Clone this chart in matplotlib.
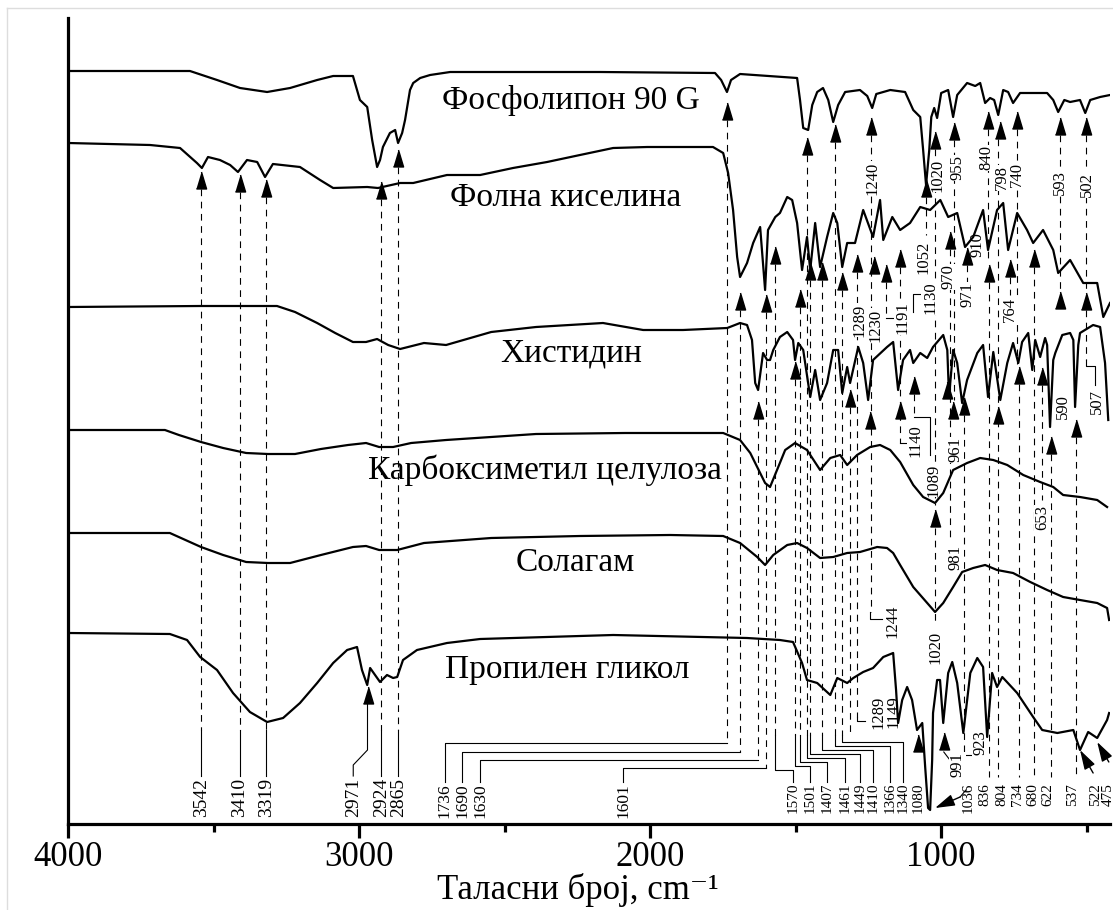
import numpy as np
import matplotlib.pyplot as plt
from matplotlib.lines import Line2D

plt.rcParams['font.family'] = ['Liberation Serif', 'DejaVu Serif']

### spectra : (wavenumber cm-1, vertical position, plotted downward)

phospholipon = [(4000,71),(3581,71),(3488,80),(3409,88),(3316,92),(3237,88),(3144,80),(3089,76),(3021,76),
    (2997,100),(2972,107),(2955,140),(2938,167),(2928,160),(2918,147),(2894,133),(2876,130),(2866,143),
    (2852,133),(2842,120),(2825,90),(2814,83),(2790,78),(2756,75),(2687,72),(2172,72),(1777,73),(1756,80),
    (1736,92),(1722,80),(1691,74),(1495,78),(1485,100),(1474,128),(1457,130),(1443,105),(1426,92),(1406,88),
    (1388,100),(1371,122),(1354,105),(1330,92),(1279,90),(1254,96),(1237,108),(1223,94),(1175,90),(1124,92),
    (1096,110),(1072,117),(1062,150),(1052,185),(1041,150),(1034,117),(1024,108),(1014,118),(1000,93),
    (976,90),(959,117),(945,95),(911,83),(883,86),(866,83),(849,103),(832,98),(818,100),(804,115),(787,90),
    (770,92),(753,103),(729,93),(636,93),(615,100),(598,112),(577,100),(557,102),(523,100),(505,113),
    (488,100),(454,97),(420,95)]

folic = [(4000,143),(3718,145),(3615,148),(3557,163),(3540,168),(3519,157),(3478,160),(3443,165),(3416,172),
    (3385,160),(3350,162),(3323,177),(3296,164),(3203,167),(3134,180),(3089,188),(2972,187),(2935,188),
    (2859,183),(2814,183),(2698,175),(2584,175),(2471,168),(2354,162),(2241,155),(2127,148),(2010,147),
    (1784,147),(1749,153),(1732,173),(1715,210),(1701,257),(1691,277),(1667,263),(1646,243),(1622,227),
    (1605,290),(1595,230),(1570,217),(1554,213),(1529,197),(1512,200),(1495,223),(1478,270),(1461,237),
    (1450,270),(1433,223),(1416,267),(1392,237),(1371,213),(1357,223),(1340,267),(1323,243),(1296,243),
    (1268,210),(1234,237),(1210,200),(1199,240),(1168,217),(1141,230),(1107,223),(1072,207),(1038,210),
    (1003,200),(976,217),(945,213),(918,247),(890,237),(856,210),(839,250),(808,210),(787,203),(770,250),
    (739,213),(705,230),(684,243),(650,230),(615,250),(598,273),(557,260),(512,283),(464,283),(443,317),
    (420,303)]

histidine = [(4000,307),(3546,306),(3282,306),(3220,312),(3144,323),(3082,333),(3021,342),(2976,342),
    (2938,339),(2900,345),(2859,349),(2777,343),(2701,345),(2546,332),(2392,327),(2162,323),(2024,330),
    (1887,330),(1735,328),(1691,323),(1667,325),(1650,340),(1639,383),(1629,390),(1612,353),(1598,360),
    (1588,360),(1577,350),(1554,337),(1529,332),(1509,340),(1502,360),(1491,343),(1474,350),(1450,397),
    (1433,370),(1416,400),(1392,383),(1371,350),(1354,350),(1340,393),(1323,367),(1313,383),(1285,347),
    (1268,363),(1251,400),(1234,360),(1186,347),(1165,342),(1148,390),(1131,360),(1107,350),(1096,363),
    (1072,353),(1048,358),(1028,347),(993,335),(979,350),(973,397),(959,350),(945,363),(928,403),(911,380),
    (876,353),(856,345),(839,397),(821,352),(797,400),(773,363),(753,343),(735,363),(722,342),(701,333),
    (687,370),(677,340),(660,357),(643,338),(636,345),(626,427),(615,360),(608,353),(584,335),(557,333),
    (546,340),(540,407),(529,345),(523,333),(478,325),(454,327),(437,363),(426,420)]

cmc = [(4000,430),(3667,430),(3619,435),(3543,442),(3467,448),(3388,453),(3313,454),(3220,454),(3131,449),
    (3038,445),(2976,443),(2931,447),(2883,447),(2821,443),(2701,440),(2392,434),(2086,433),(1749,433),
    (1691,440),(1656,453),(1622,473),(1605,483),(1588,487),(1564,470),(1536,450),(1502,443),(1461,450),
    (1416,470),(1381,458),(1347,455),(1323,465),(1289,455),(1244,447),(1210,445),(1175,450),(1141,462),
    (1096,485),(1062,497),(1021,503),(993,493),(959,470),(911,463),(866,458),(821,460),(773,465),(718,475),
    (660,482),(615,487),(581,495),(523,497),(464,500),(430,507)]

solagum = [(4000,533),(3650,533),(3543,547),(3467,555),(3388,562),(3313,563),(3237,563),(3131,555),(3021,547),
    (2976,546),(2931,550),(2869,550),(2777,543),(2546,538),(2241,536),(1931,535),(1749,536),(1691,543),
    (1632,557),(1605,565),(1577,555),(1529,545),(1495,543),(1461,548),(1416,558),(1371,557),(1323,553),
    (1279,552),(1220,547),(1186,548),(1165,553),(1141,565),(1096,587),(1048,603),(1021,612),(993,603),
    (959,587),(928,572),(890,568),(849,565),(808,570),(753,573),(694,582),(636,590),(581,597),(523,600),
    (464,603),(430,608),(423,620)]

propylene = [(4000,633),(3650,634),(3591,640),(3546,657),(3488,670),(3433,693),(3375,712),(3316,722),
    (3261,718),(3203,703),(3144,683),(3089,663),(3041,650),(3007,647),(2990,670),(2972,685),(2962,668),
    (2945,675),(2928,682),(2904,675),(2883,678),(2869,677),(2849,660),(2801,650),(2698,643),(2584,639),
    (2127,635),(1667,638),(1554,640),(1509,642),(1478,663),(1461,680),(1426,683),(1381,695),(1357,678),
    (1323,683),(1302,678),(1268,672),(1234,668),(1199,657),(1165,653),(1155,690),(1148,723),(1134,700),
    (1117,687),(1100,700),(1083,730),(1065,723),(1055,767),(1045,808),(1038,810),(1031,760),(1028,713),
    (1014,680),(1004,680),(993,723),(976,673),(962,662),(945,683),(924,733),(900,673),(876,658),(856,667),
    (842,737),(825,673),(808,687),(790,677),(739,693),(684,717),(653,730),(601,733),(546,730),(523,750),
    (495,732),(464,738),(430,720),(423,713)]

spectra = [phospholipon, folic, histidine, cmc, solagum, propylene]
names = ['Фосфолипон 90 G', 'Фолна киселина', 'Хистидин', 'Карбоксиметил целулоза', 'Солагам', 'Пропилен гликол']
name_wn = [2272, 2292, 2272, 2361, 2258, 2285]
name_y = [101, 198, 353, 470, 563, 670]

### marked bands (arrow wavenumber, arrow tip)
arrow_wn = [2865,1736,1461,1366,1240,1052,1020,955,840,798,740,593,502,
            3542,3410,3319,2924,1690,1601,1570,1485,1449,1410,1340,1289,1230,1191,1140,970,910,836,764,680,593,502,
            1630,1501,1313,1244,1140,1093,979,961,923,804,734,653,622,537,
            1020,
            2971,1080,991]
arrow_tip = [150,103,138,125,118,180,132,123,112,122,112,118,118,
             172,175,180,182,293,295,247,290,263,263,273,255,257,265,250,232,248,265,260,250,292,293,
             402,362,390,412,402,377,382,402,398,407,367,368,437,420,
             510,
             687,735,733]

### dashed guide lines (wavenumber, from, to)
dash_wn = [3542,3410,3319,2924,2865,1736,1690,1630,1601,1570,1501,1485,1461,1449,1410,1366,1340,1313,1289,
           1240,1191,1140,1093,1052,1020,1020,970,955,923,910,840,836,804,764,740,734,680,653,622,593,537,502,502]
dash_top = [189,192,197,199,167,120,310,419,312,264,379,307,155,280,280,142,290,407,272,
            135,282,267,394,197,149,528,249,140,415,265,129,282,139,277,129,384,267,385,454,135,437,135,310]
dash_bot = [730,730,730,730,730,743,752,760,768,735,735,735,735,735,735,735,735,735,717,
            612,318,443,417,235,505,625,540,400,750,300,262,777,777,295,364,777,777,500,777,289,777,289,360]

### labels at the bottom : text, text position, line it hangs from, bend level
left_labels = ['3542', '3410', '3319', '2924', '2865']
mid_labels = ['1736', '1690', '1630', '1601']
mid_text_wn = [2705, 2646, 2584, 2093]
mid_bend = [743, 752, 760, 768]
right_labels = ['1570', '1501', '1407', '1461', '1449', '1410', '1366', '1340']
right_line_wn = [1570, 1501, 1485, 1461, 1449, 1410, 1366, 1340]
right_text_wn = [1509, 1450, 1392, 1330, 1278, 1234, 1175, 1131]
right_bend = [770, 766, 762, 758, 754, 750, 746, 742]
end_labels = ['1080', '1036', '836', '804', '734', '680', '622', '537', '522', '475']
end_text_wn = [1079, 907, 849, 790, 739, 684, 632, 550, 471, 426]

### labels along the spectra
band_text = ['1240','1020','955','840','798','740','593','502',
             '1052','910','970','971','1130','764','1289','1230','1191',
             '1140','1089','961','590','507',
             '981','653',
             '1244','1020',
             '1289','1149','991','923']
band_wn = [1237,1014,945,845,790,739,591,498,
           1062,876,976,911,1038,763,1279,1227,1134,
           1089,1028,952,581,464,
           952,653,
           1168,1021,
           1217,1165,945,866]
band_y = [178,175,168,158,178,175,183,185,
          257,245,277,295,298,309,320,325,318,
          441,480,450,407,402,
          558,518,
          621,647,
          712,712,765,743]

# small leaders to the shifted labels
brackets = [[(2971,704),(2971,750),(3020,765),(3020,776)],
            [(1244,612),(1244,619),(1203,619)],
            [(1093,417),(1038,417),(1038,455)],
            [(1140,443),(1120,443)],
            [(1191,318),(1151,318)],
            [(1097,312),(1097,294),(1069,294)],
            [(502,360),(502,366),(470,366),(470,385)],
            [(923,750),(923,755),(897,755)],
            [(991,752),(970,760)],
            [(1289,717),(1289,721),(1262,721)],
            [(935,797),(915,790)]]

# slanted arrows (tip, tail)
slant_tip = [(1021,808),(523,750),(464,742)]
slant_tail = [(935,797),(478,773),(424,762)]


fig = plt.figure(figsize=(11.13, 9.10), dpi=100)
ax = fig.add_axes([68/1113, 1-824/910, (1110-68)/1113, (824-18)/910])
ax.set_xlim(4000, 420)
ax.set_ylim(824, 18)

for s in ['top', 'right']:
    ax.spines[s].set_visible(False)
ax.spines['left'].set_linewidth(2.3)
ax.spines['bottom'].set_linewidth(2.3)
ax.set_yticks([])
ax.set_xticks([4000, 3000, 2000, 1000])
ax.set_xticks([3500, 2500, 1500, 500], minor=True)
ax.tick_params(axis='x', which='major', direction='out', length=10, width=2.3, labelsize=25, pad=2)
ax.tick_params(axis='x', which='minor', direction='out', length=6, width=2.3)
ax.set_xlabel('Таласни број, cm⁻¹', fontsize=25)
ax.xaxis.set_label_coords(0.489, -0.082)
ax.xaxis.label.set_va('center')

# dashed guides
for w, a, b in zip(dash_wn, dash_top, dash_bot):
    ax.plot([w, w], [a, b], color='k', lw=0.8, ls=(0, (6, 5)), zorder=1)

# spectra
for sp in spectra:
    d = np.array(sp)
    ax.plot(d[:, 0], d[:, 1], color='k', lw=1.6, zorder=3)

for n, w, y in zip(names, name_wn, name_y):
    ax.text(w, y, n, fontsize=24, ha='center', va='center', zorder=2)

# arrows
tri = [(-0.6, -1), (0.6, -1), (0, 1)]
ax.plot(arrow_wn, np.array(arrow_tip) + 8.5, ls='none', marker=tri, ms=12.2,
        color='k', zorder=4)

for tip, tail in zip(slant_tip, slant_tail):
    ax.annotate('', xy=tip, xytext=tail, annotation_clip=False,
                arrowprops=dict(arrowstyle='-|>,head_length=0.4,head_width=0.12',
                                mutation_scale=30, lw=1, color='k', shrinkA=0, shrinkB=0))

for br in brackets:
    b = np.array(br)
    ax.plot(b[:, 0], b[:, 1], color='k', lw=0.8, zorder=1, clip_on=False)

# bottom labels
for t in left_labels:
    w = float(t)
    ax.plot([w, w], [730, 776], color='k', lw=0.8)
    ax.text(w, 778, t, rotation=90, fontsize=14, ha='center', va='top')
ax.text(3020, 778, '2971', rotation=90, fontsize=14, ha='center', va='top')

for t, tw, yb in zip(mid_labels, mid_text_wn, mid_bend):
    w = float(t)
    ax.plot([w, tw, tw], [yb, yb, 782], color='k', lw=0.8)
    ax.text(tw, 783, t, rotation=90, fontsize=12.5, ha='center', va='top')

for t, lw_, tw, yb in zip(right_labels, right_line_wn, right_text_wn, right_bend):
    ax.plot([lw_, lw_, tw, tw], [735, yb, yb, 782], color='k', lw=0.8)
    ax.text(tw, 783, t, rotation=90, fontsize=11, ha='center', va='top')

for t, tw in zip(end_labels, end_text_wn):
    ax.text(tw, 783, t, rotation=90, fontsize=11, ha='center', va='top', clip_on=False)

for t, w, y in zip(band_text, band_wn, band_y):
    ax.text(w, y, t, rotation=90, fontsize=12, ha='center', va='center', zorder=2,
            bbox=dict(fc='white', ec='none', pad=0.5))

# thin frame of the original figure
fig.add_artist(Line2D([7/1113, 7/1113], [0, 1-8/910], color='#dddddd', lw=1))
fig.add_artist(Line2D([7/1113, 1], [1-8/910, 1-8/910], color='#dddddd', lw=1))

plt.savefig('out.png', dpi=100)
